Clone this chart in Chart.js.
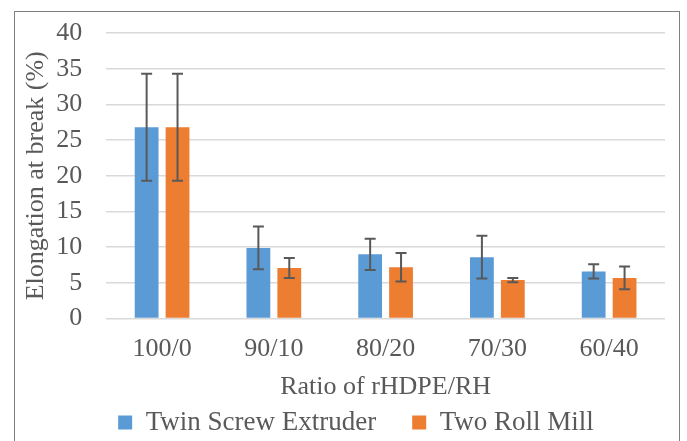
<!DOCTYPE html>
<html>
<head>
<meta charset="utf-8">
<script src="https://cdn.jsdelivr.net/npm/chart.js@4/dist/chart.umd.min.js"></script>
<style>
  html, body { margin: 0; padding: 0; background: #fff; }
  #wrap { position: relative; width: 687px; height: 441px; overflow: hidden; }
  #frame { position: absolute; left: 14px; top: 11px; width: 666px; height: 450px; border: 1.5px solid #808080; box-sizing: border-box; }
  canvas { position: absolute; left: 0; top: 0; }
</style>
</head>
<body>
<div id="wrap">
  <div id="frame"></div>
  <canvas id="elongChart" width="687" height="441"></canvas>
</div>
<script>
// ratios and measured elongation (%) with std deviations
const ratios = ["100/0", "90/10", "80/20", "70/30", "60/40"];
const twinScrew = [26.8, 9.9, 9.0, 8.6, 6.6];
const twinScrewErr = [7.5, 3.0, 2.2, 3.0, 1.0];
const twoRoll = [26.8, 7.1, 7.2, 5.4, 5.7];
const twoRollErr = [7.5, 1.4, 2.0, 0.3, 1.6];
const yTicks = [0, 5, 10, 15, 20, 25, 30, 35, 40];

const textColor = "#595959";
const serif = "'Liberation Serif', 'DejaVu Serif', serif";

// draws the error bars on top of each bar
const errorBars = {
  id: "errorBars",
  afterDatasetsDraw(chart) {
    const c = chart.ctx;
    const y = chart.scales.y;
    chart.data.datasets.forEach((ds, i) => {
      const meta = chart.getDatasetMeta(i);
      meta.data.forEach((bar, j) => {
        const v = ds.data[j], e = ds.errors[j];
        const yTop = y.getPixelForValue(v + e);
        const yBot = y.getPixelForValue(v - e);
        c.save();
        c.strokeStyle = "#595959";
        c.lineWidth = 2;
        c.beginPath();
        c.moveTo(bar.x, yTop); c.lineTo(bar.x, yBot);
        c.moveTo(bar.x - 5.5, yTop); c.lineTo(bar.x + 5.5, yTop);
        c.moveTo(bar.x - 5.5, yBot); c.lineTo(bar.x + 5.5, yBot);
        c.stroke();
        c.restore();
      });
    });
  }
};

new Chart(document.getElementById("elongChart"), {
  type: "bar",
  data: {
    labels: ratios,
    datasets: [
      { label: "Twin Screw Extruder", data: twinScrew, errors: twinScrewErr, backgroundColor: "#5B9BD5" },
      { label: "Two Roll Mill", data: twoRoll, errors: twoRollErr, backgroundColor: "#ED7D31" }
    ]
  },
  options: {
    responsive: false,
    animation: false,
    devicePixelRatio: 1,
    categoryPercentage: 0.553,
    barPercentage: 0.77,
    layout: { padding: { top: 33, right: 22, left: 47, bottom: -5 } },
    plugins: {
      legend: {
        position: "bottom",
        labels: {
          boxWidth: 14, boxHeight: 14, padding: 36,
          color: textColor,
          font: { family: serif, size: 27 }
        }
      },
      tooltip: { enabled: false }
    },
    scales: {
      x: {
        grid: { display: false, drawTicks: false },
        border: { display: false },
        ticks: { color: textColor, padding: 15, font: { family: serif, size: 26 } },
        title: {
          display: true, text: "Ratio of rHDPE/RH", color: textColor,
          padding: { top: -8, bottom: -30 },
          font: { family: serif, size: 26 }
        }
      },
      y: {
        min: 0, max: 40,
        afterBuildTicks(axis) { axis.ticks = yTicks.map(v => ({ value: v })); },
        // tick padding would otherwise push the plot top down
        afterFit(axis) { axis.paddingTop = 14; axis.paddingBottom = 14; },
        grid: { color: "#d9d9d9", lineWidth: 1.5, drawTicks: false },
        border: { display: false },
        ticks: { autoSkip: false, color: textColor, padding: 24, font: { family: serif, size: 26 } },
        title: {
          display: true, text: "Elongation at break (%)", color: textColor,
          padding: { top: -26, bottom: -20 },
          font: { family: serif, size: 26 }
        }
      }
    }
  },
  plugins: [errorBars]
});
</script>
</body>
</html>
